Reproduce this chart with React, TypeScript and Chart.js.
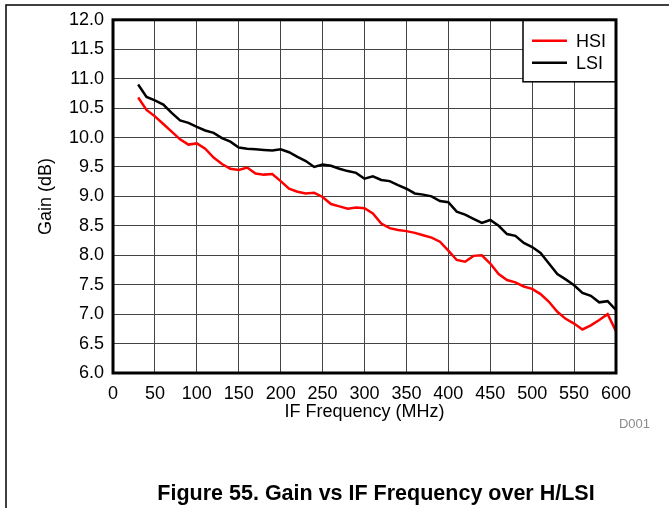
import React, { useEffect, useRef } from "react";
import { Chart, registerables } from "chart.js";

Chart.register(...registerables);

const FREQ_MHZ = [30, 40, 50, 60, 70, 80, 90, 100, 110, 120, 130, 140, 150, 160, 170, 180, 190, 200, 210, 220, 230, 240, 250, 260, 270, 280, 290, 300, 310, 320, 330, 340, 350, 360, 370, 380, 390, 400, 410, 420, 430, 440, 450, 460, 470, 480, 490, 500, 510, 520, 530, 540, 550, 560, 570, 580, 590, 600];

const HSI_GAIN = [10.68, 10.47, 10.36, 10.23, 10.10, 9.97, 9.88, 9.90, 9.81, 9.66, 9.55, 9.47, 9.45, 9.49, 9.39, 9.37, 9.38, 9.26, 9.13, 9.08, 9.05, 9.06, 8.99, 8.87, 8.83, 8.79, 8.81, 8.80, 8.71, 8.54, 8.46, 8.43, 8.41, 8.38, 8.34, 8.30, 8.23, 8.08, 7.92, 7.89, 7.99, 8.00, 7.86, 7.68, 7.58, 7.54, 7.47, 7.43, 7.34, 7.21, 7.04, 6.92, 6.84, 6.74, 6.81, 6.90, 7.00, 6.71];

const LSI_GAIN = [10.90, 10.69, 10.63, 10.56, 10.42, 10.29, 10.25, 10.18, 10.12, 10.08, 9.99, 9.93, 9.83, 9.81, 9.80, 9.79, 9.78, 9.80, 9.75, 9.67, 9.60, 9.50, 9.54, 9.52, 9.47, 9.43, 9.40, 9.30, 9.34, 9.28, 9.26, 9.19, 9.13, 9.05, 9.03, 9.00, 8.92, 8.90, 8.74, 8.69, 8.62, 8.55, 8.60, 8.50, 8.36, 8.33, 8.21, 8.14, 8.04, 7.86, 7.68, 7.59, 7.49, 7.36, 7.31, 7.20, 7.22, 7.07];

const SERIES_NAMES = ["HSI", "LSI"];
const SERIES_COLORS = ["#ff0000", "#000000"];
const X_TITLE = "IF Frequency (MHz)";
const Y_TITLE = "Gain (dB)";
const CAPTION = "Figure 55. Gain vs IF Frequency over H/LSI";
const FIG_ID = "D001";

const FONT = "'Liberation Sans', Arial, sans-serif";

const decorPlugin = {
  id: "decor",
  afterDraw(chart: any) {
    const ctx = chart.ctx as CanvasRenderingContext2D;
    const a = chart.chartArea;
    ctx.save();

    // legend box
    const lx = 523, ly = a.top, lw = a.right - 523, lh = 62;
    ctx.fillStyle = "#ffffff";
    ctx.fillRect(lx, ly, lw, lh);
    ctx.strokeStyle = "#000";
    ctx.lineWidth = 1.5;
    ctx.strokeRect(lx, ly, lw, lh);
    SERIES_NAMES.forEach((name, i) => {
      const y = ly + 21 + i * 22;
      ctx.strokeStyle = SERIES_COLORS[i];
      ctx.lineWidth = 2.5;
      ctx.beginPath();
      ctx.moveTo(532, y);
      ctx.lineTo(567, y);
      ctx.stroke();
      ctx.fillStyle = "#000";
      ctx.font = `18px ${FONT}`;
      ctx.textAlign = "left";
      ctx.textBaseline = "middle";
      ctx.fillText(name, 576, y + 1);
    });

    // plot frame
    ctx.strokeStyle = "#000";
    ctx.lineWidth = 3;
    ctx.strokeRect(a.left, a.top, a.right - a.left, a.bottom - a.top);

    // axis titles
    ctx.fillStyle = "#000";
    ctx.font = `18px ${FONT}`;
    ctx.textAlign = "center";
    ctx.textBaseline = "middle";
    ctx.fillText(X_TITLE, (a.left + a.right) / 2, 412);
    ctx.save();
    ctx.translate(46, (a.top + a.bottom) / 2);
    ctx.rotate(-Math.PI / 2);
    ctx.fillText(Y_TITLE, 0, 0);
    ctx.restore();

    // figure id
    ctx.fillStyle = "#8c8c8c";
    ctx.font = `13px ${FONT}`;
    ctx.textAlign = "right";
    ctx.fillText(FIG_ID, 650, 424);

    // caption
    ctx.fillStyle = "#000";
    ctx.font = `bold 21.5px ${FONT}`;
    ctx.textAlign = "center";
    ctx.fillText(CAPTION, 376, 494);

    // outer page frame
    ctx.strokeStyle = "#000";
    ctx.lineWidth = 1.5;
    ctx.beginPath();
    ctx.moveTo(6, 508);
    ctx.lineTo(6, 5);
    ctx.lineTo(669, 5);
    ctx.stroke();

    ctx.restore();
  },
};

export default function App() {
  const ref = useRef<HTMLCanvasElement | null>(null);

  useEffect(() => {
    if (!ref.current) return;
    const chart = new Chart(ref.current, {
      type: "line",
      data: {
        datasets: SERIES_NAMES.map((name, i) => ({
          label: name,
          data: FREQ_MHZ.map((f, j) => ({ x: f, y: (i === 0 ? HSI_GAIN : LSI_GAIN)[j] })),
          borderColor: SERIES_COLORS[i],
          backgroundColor: SERIES_COLORS[i],
          borderWidth: 2.5,
          pointRadius: 0,
          tension: 0,
          fill: false,
        })),
      },
      options: {
        responsive: false,
        animation: false,
        layout: { padding: { left: 0, top: 18, right: 53, bottom: 95 } },
        plugins: {
          legend: { display: false },
          title: { display: false },
          tooltip: { enabled: false },
        },
        scales: {
          x: {
            type: "linear",
            min: 0,
            max: 600,
            ticks: {
              stepSize: 50,
              color: "#000",
              font: { family: FONT, size: 18 },
              padding: 10,
              maxRotation: 0,
              autoSkip: false,
            },
            grid: { color: "#444", lineWidth: 1, drawTicks: false },
            border: { display: false },
            afterFit: (s: any) => { s.height = 40; },
          },
          y: {
            type: "linear",
            min: 6,
            max: 12,
            ticks: {
              stepSize: 0.5,
              color: "#000",
              font: { family: FONT, size: 18 },
              padding: 9,
              autoSkip: false,
              callback: (v: any) => Number(v).toFixed(1),
            },
            grid: { color: "#444", lineWidth: 1, drawTicks: false },
            border: { display: false },
            afterFit: (s: any) => { s.width = 113; },
          },
        },
      },
      plugins: [decorPlugin],
    });
    return () => chart.destroy();
  }, []);

  return (
    <div style={{ position: "fixed", left: 0, top: 0, width: 669, height: 508, background: "#fff" }}>
      <canvas ref={ref} width={669} height={508} style={{ display: "block" }} />
    </div>
  );
}
